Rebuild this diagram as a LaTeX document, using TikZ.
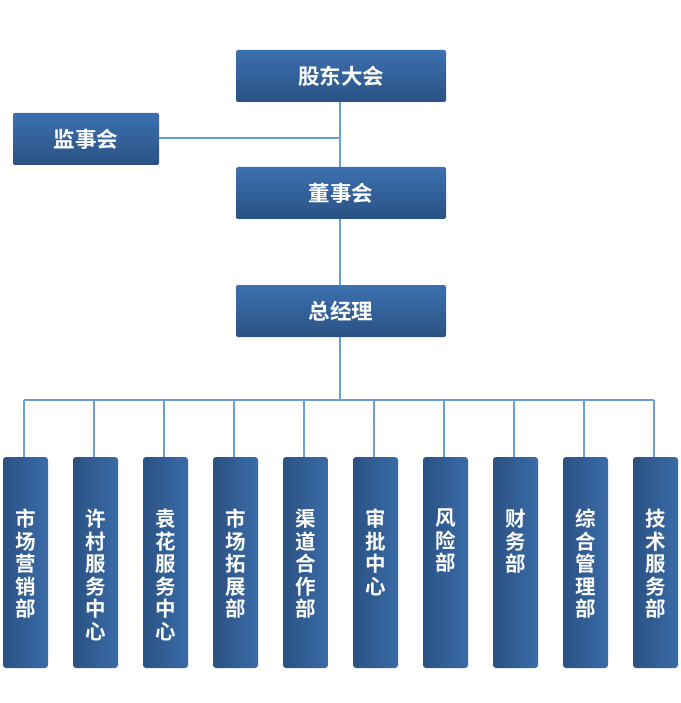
\documentclass[tikz,border=0pt]{standalone}
\usepackage{fontspec}
\newfontfamily\cjk{Noto Sans CJK SC}[BoldFont={Noto Sans CJK SC Bold}]
\definecolor{boxtop}{HTML}{3C70B0}
\definecolor{boxbot}{HTML}{2A5283}
\definecolor{boxleft}{HTML}{2A5283}
\definecolor{boxright}{HTML}{3A6BA8}
\definecolor{linec}{HTML}{6B9ED3}
\tikzset{
  topbox/.style={rounded corners=2pt, top color=boxtop, bottom color=boxbot, draw=none,
    minimum width=210pt, minimum height=52pt, inner sep=0pt, text=white,
    font=\cjk\bfseries\fontsize{21.5pt}{24pt}\selectfont},
  sidebox/.style={topbox, minimum width=146pt},
  deptbox/.style={rounded corners=3pt, left color=boxleft, right color=boxright, draw=none,
    minimum width=45pt, minimum height=211pt, inner sep=0pt},
  depttext/.style={text=white, font=\cjk\bfseries\fontsize{20.5pt}{22.5pt}\selectfont,
    align=center, anchor=north, inner sep=0pt},
  conn/.style={draw=linec, line width=2.5pt}
}
\begin{document}
\begin{tikzpicture}[x=1pt,y=-1pt]
\useasboundingbox (0,0) rectangle (680,703);
\node[topbox] (gd) at (341,76) {股东大会};
\node[sidebox] (js) at (86,139) {监事会};
\node[topbox] (ds) at (341,193) {董事会};
\node[topbox] (zj) at (341,311) {总经理};
\coordinate (jn) at (340,138);
\coordinate (bus) at (340,400);
\draw[conn] (gd.south -| jn) -- (ds.north -| jn);
\draw[conn] (js.east |- jn) -- (jn);
\draw[conn] (ds.south -| jn) -- (zj.north -| jn);
\draw[conn] (zj.south -| jn) -- (bus);
\foreach \i/\t in {0/{市\\场\\营\\销\\部},1/{许\\村\\服\\务\\中\\心},2/{袁\\花\\服\\务\\中\\心},3/{市\\场\\拓\\展\\部},4/{渠\\道\\合\\作\\部},5/{审\\批\\中\\心},6/{风\\险\\部},7/{财\\务\\部},8/{综\\合\\管\\理\\部},9/{技\\术\\服\\务\\部}}{
  \node[deptbox] (d\i) at ({25.5+70*\i},562.5) {};
  \node[depttext] (t\i) at ({25.5+70*\i},509) {\t};
  \coordinate (b\i) at ({24+70*\i},400);
  \draw[conn] (b\i) -- (b\i |- d\i.north);
}
\draw[conn] (b0) -- (b9);
\end{tikzpicture}
\end{document}
